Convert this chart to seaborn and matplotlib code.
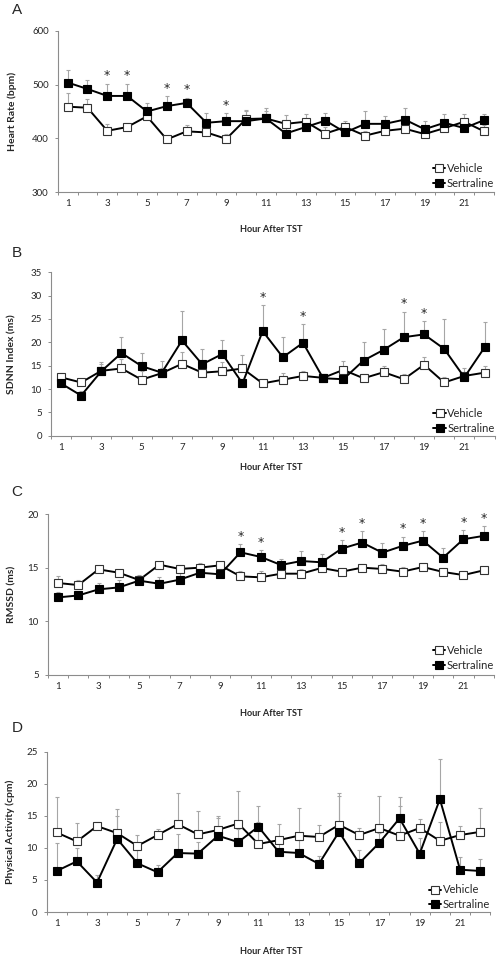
import matplotlib
matplotlib.use("Agg")
import matplotlib.pyplot as plt
import seaborn as sns
import numpy as np
import pandas as pd

# ---------------- data ----------------
hours = list(range(1, 23))
xtick_labels = [1, 3, 5, 7, 9, 11, 13, 15, 17, 19, 21]

hr_vehicle = [459, 457, 414, 421, 441, 398, 413, 411, 399, 436, 437, 427, 431, 409, 421, 405, 414, 418, 408, 419, 431, 413]
hr_vehicle_err = [26, 17, 13, 7, 8, 7, 11, 8, 9, 16, 14, 16, 15, 13, 11, 8, 10, 10, 8, 10, 15, 11]
hr_sertraline = [504, 492, 479, 479, 450, 460, 466, 429, 432, 432, 437, 409, 421, 433, 411, 427, 427, 435, 417, 429, 419, 434]
hr_sertraline_err = [23, 17, 23, 23, 16, 18, 10, 18, 15, 18, 20, 10, 12, 14, 10, 24, 15, 21, 16, 17, 10, 12]
hr_stars = [3, 4, 6, 7, 9]

sdnn_vehicle = [12.5, 11.4, 13.9, 14.4, 12.0, 13.4, 15.4, 13.5, 13.8, 14.4, 11.2, 12.0, 12.8, 12.4, 14.1, 12.3, 13.6, 12.1, 15.2, 11.4, 12.8, 13.5]
sdnn_vehicle_err = [1.0, 0.7, 1.5, 2.0, 1.9, 1.0, 2.5, 1.0, 1.9, 2.9, 0.6, 1.4, 1.1, 0.8, 1.8, 0.9, 1.3, 1.1, 1.7, 1.1, 1.6, 1.5]
sdnn_sertraline = [11.2, 8.6, 13.8, 17.7, 14.9, 13.5, 20.4, 15.3, 17.5, 11.2, 22.4, 16.8, 19.9, 12.3, 12.1, 16.1, 18.4, 21.1, 21.7, 18.6, 12.5, 18.9]
sdnn_sertraline_err = [1.0, 1.0, 1.9, 3.5, 2.8, 2.6, 6.4, 3.3, 3.1, 1.0, 5.5, 4.4, 4.0, 0.8, 1.0, 3.9, 4.5, 5.5, 2.9, 6.4, 1.0, 5.4]
sdnn_stars = [11, 13, 18, 19]

rmssd_vehicle = [13.57, 13.38, 14.84, 14.53, 13.85, 15.28, 14.88, 15.0, 15.22, 14.19, 14.1, 14.44, 14.44, 14.97, 14.63, 15.0, 14.88, 14.63, 15.06, 14.6, 14.31, 14.75]
rmssd_vehicle_err = [0.68, 0.5, 0.2, 0.2, 0.4, 0.1, 0.37, 0.4, 0.3, 0.5, 0.6, 0.3, 0.4, 0.3, 0.3, 0.3, 0.5, 0.4, 0.4, 0.4, 0.35, 0.3]
rmssd_sertraline = [12.23, 12.41, 12.98, 13.16, 13.79, 13.5, 13.88, 14.53, 14.38, 16.43, 16.0, 15.25, 15.62, 15.5, 16.78, 17.34, 16.4, 17.03, 17.52, 15.93, 17.65, 17.96]
rmssd_sertraline_err = [0.5, 0.4, 0.6, 0.65, 0.55, 0.6, 0.6, 0.4, 0.5, 0.8, 0.6, 0.55, 0.9, 0.8, 0.8, 1.05, 0.9, 0.87, 0.88, 0.87, 0.85, 0.95]
rmssd_stars = [10, 11, 15, 16, 18, 19, 21, 22]

pa_vehicle = [12.4, 11.0, 13.4, 12.3, 10.3, 12.0, 13.7, 12.1, 12.8, 13.8, 10.6, 11.2, 11.9, 11.7, 13.6, 12.0, 13.1, 11.9, 13.1, 11.1, 12.0, 12.5]
pa_vehicle_err = [5.6, 2.9, 0.6, 3.7, 1.7, 0.9, 4.8, 3.7, 2.2, 5.1, 3.5, 2.6, 4.3, 1.8, 5.0, 1.1, 5.0, 4.6, 1.4, 3.0, 1.4, 3.7]
pa_sertraline = [6.4, 7.9, 4.6, 11.4, 7.6, 6.2, 9.2, 9.1, 11.9, 10.9, 13.3, 9.4, 9.2, 7.5, 12.5, 7.6, 10.8, 14.6, 9.1, 17.6, 6.6, 6.4]
pa_sertraline_err = [4.4, 2.1, 1.2, 3.6, 2.0, 1.2, 2.9, 1.8, 2.8, 2.1, 3.2, 1.5, 2.0, 1.2, 5.6, 2.1, 1.5, 3.3, 2.5, 6.3, 1.9, 1.9]
pa_stars = []

panel_letters = ["A", "B", "C", "D"]
y_labels = ["Heart Rate (bpm)", "SDNN Index (ms)", "RMSSD (ms)", "Physical Activity (cpm)"]
x_label = "Hour After TST"
series_names = ["Vehicle", "Sertraline"]

# ---------------- style ----------------
sns.set_style("white")
plt.rcParams["font.family"] = ["Lato", "DejaVu Sans"]

W, H = 498, 958
fig = plt.figure(figsize=(W / 100, H / 100), dpi=100)

def rect(l, r, t, b):
    return [l / W, 1 - b / H, (r - l) / W, (b - t) / H]

panels = [
    dict(pos=(57.7, 494.0, 31, 192), ylim=(300, 600), yticks=[300, 400, 500, 600],
         v=hr_vehicle, ve=hr_vehicle_err, s=hr_sertraline, se=hr_sertraline_err, stars=hr_stars,
         letter_y=10, xlab_y=230, ylab_x=12, sert_y=182),
    dict(pos=(50.9, 494.6, 272.3, 435.7), ylim=(0, 35), yticks=list(range(0, 36, 5)),
         v=sdnn_vehicle, ve=sdnn_vehicle_err, s=sdnn_sertraline, se=sdnn_sertraline_err, stars=sdnn_stars,
         letter_y=253, xlab_y=468, ylab_x=12, sert_y=426.7),
    dict(pos=(47.9, 493.8, 514, 675), ylim=(5, 20), yticks=[5, 10, 15, 20],
         v=rmssd_vehicle, ve=rmssd_vehicle_err, s=rmssd_sertraline, se=rmssd_sertraline_err, stars=rmssd_stars,
         letter_y=492, xlab_y=713, ylab_x=12, sert_y=664),
    dict(pos=(46.6, 490.3, 751.7, 912), ylim=(0, 25), yticks=list(range(0, 26, 5)),
         v=pa_vehicle, ve=pa_vehicle_err, s=pa_sertraline, se=pa_sertraline_err, stars=pa_stars,
         letter_y=728, xlab_y=952, ylab_x=10, sert_y=903.3),
]

axis_col = "#8c8c8c"
err_col = "#a6a6a6"
text_col = "#262626"

for i, p in enumerate(panels):
    l, r, t, b = p["pos"]
    ax = fig.add_axes(rect(l, r, t, b))
    df = pd.DataFrame({"hour": hours * 2,
                       "value": list(p["v"]) + list(p["s"]),
                       "group": [series_names[0]] * len(hours) + [series_names[1]] * len(hours)})

    # error bars (upper only)
    for vals, errs in [(p["v"], p["ve"]), (p["s"], p["se"])]:
        ax.errorbar(hours, vals, yerr=[np.zeros(len(errs)), errs], fmt="none",
                    ecolor=err_col, elinewidth=0.8, capsize=1.3, capthick=0.8, zorder=1)

    sns.lineplot(data=df[df.group == series_names[0]], x="hour", y="value", ax=ax,
                 color="black", lw=1.4, marker="s", markersize=5.3,
                 markerfacecolor="white", markeredgecolor="#333333", markeredgewidth=0.8,
                 label=series_names[0], zorder=3)
    sns.lineplot(data=df[df.group == series_names[1]], x="hour", y="value", ax=ax,
                 color="black", lw=1.4, marker="s", markersize=5.3,
                 markerfacecolor="black", markeredgecolor="black", markeredgewidth=0.8,
                 label=series_names[1], zorder=4)

    # significance stars
    for h in p["stars"]:
        idx = hours.index(h)
        ax.annotate("*", xy=(h, p["s"][idx] + p["se"][idx]), xytext=(0, 3),
                    textcoords="offset points", ha="center", va="baseline",
                    fontsize=9, color=text_col, family="DejaVu Sans")

    ax.set_xlim(0.5, 22.5)
    ax.set_ylim(*p["ylim"])
    ax.set_yticks(p["yticks"])
    ax.set_xticks(xtick_labels)
    ax.set_xticks(np.arange(0.5, 23, 1), minor=True)
    ax.tick_params(axis="x", which="major", length=0, pad=5, labelsize=7, labelcolor=text_col)
    ax.tick_params(axis="x", which="minor", length=2.5, width=0.7, color=axis_col, direction="out", bottom=True)
    ax.tick_params(axis="y", which="major", length=2.5, width=0.7, color=axis_col, direction="out",
                   left=True, pad=4, labelsize=7, labelcolor=text_col)
    for sp in ["top", "right"]:
        ax.spines[sp].set_visible(False)
    for sp in ["left", "bottom"]:
        ax.spines[sp].set_color(axis_col)
        ax.spines[sp].set_linewidth(0.8)

    ax.set_xlabel(x_label, fontsize=6.6, fontweight="bold", color=text_col)
    ax.xaxis.set_label_coords(271 / W, 1 - p["xlab_y"] / H, transform=fig.transFigure)
    ax.xaxis.label.set_va("center")
    ax.set_ylabel(y_labels[i], fontsize=7.5, fontweight="bold", color=text_col)
    ax.yaxis.set_label_coords(p["ylab_x"] / W, 1 - ((t + b) / 2) / H, transform=fig.transFigure)
    ax.yaxis.label.set_va("center")
    ax.yaxis.label.set_ha("center")

    ax.legend(loc="lower right", bbox_to_anchor=(r / W, 1 - (p["sert_y"] + 7) / H),
              bbox_transform=fig.transFigure, frameon=False, fontsize=8,
              handlelength=1.1, handletextpad=0.15, labelspacing=0.35,
              borderpad=0, borderaxespad=0, labelcolor=text_col)

    fig.text(17 / W, 1 - p["letter_y"] / H, panel_letters[i], fontsize=11,
             family="Liberation Sans", color=text_col, ha="center", va="center")

fig.savefig("out.png", dpi=100)
